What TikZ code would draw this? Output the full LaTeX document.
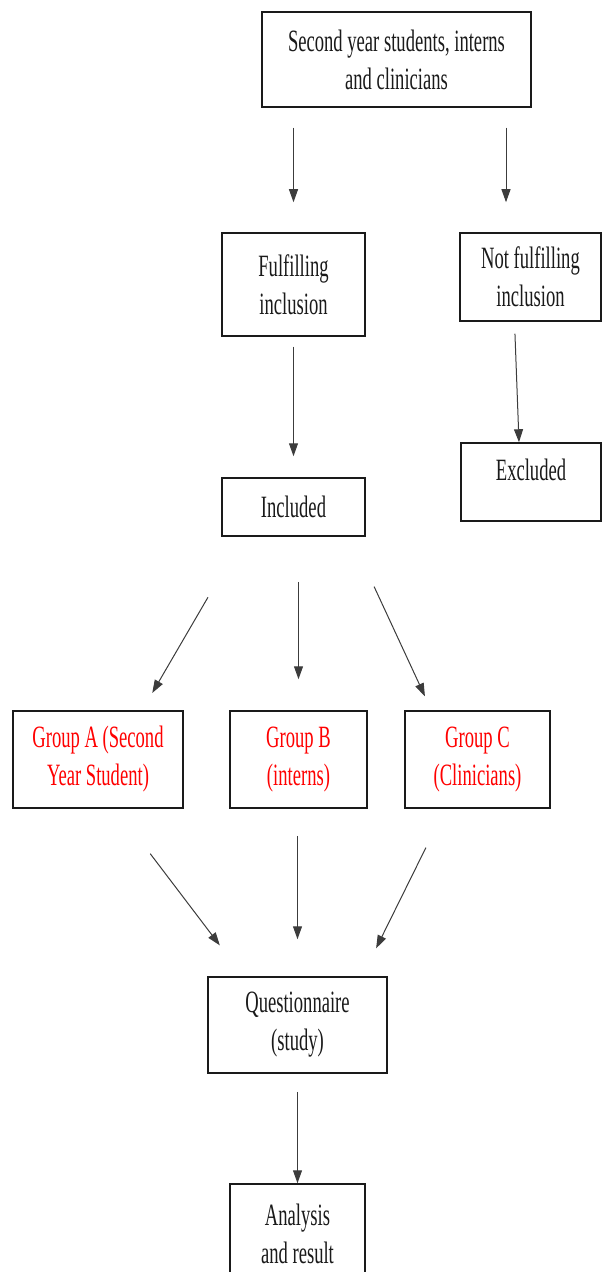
\documentclass[tikz,border=0pt]{standalone}
\usepackage{fontspec}
\setmainfont{Liberation Serif}[FakeStretch=0.6]
\usetikzlibrary{arrows.meta,calc}
\definecolor{ink}{HTML}{1A1A1A}
\definecolor{grp}{HTML}{FF0000}
\tikzset{
  stage/.style={draw=ink, line width=0.75pt, fill=white, align=center,
    inner sep=0pt, font=\fontsize{15.5}{19}\selectfont, text=ink},
  group/.style={stage, text=grp},
  flow/.style={-{Triangle[length=6.5pt,width=4.5pt]}, draw=ink!85, line width=0.5pt},
}

\begin{document}
\begin{tikzpicture}[x=0.5pt, y=-0.5pt]
\useasboundingbox (0,0) rectangle (602,1272);

% Screening
\node[stage, minimum width=134.5pt, minimum height=47.5pt] (pool) at (396.5,59.5) {Second year students, interns\\and clinicians};
\node[stage, minimum width=71.5pt, minimum height=51.5pt] (ful) at (293.5,284.5) {Fulfilling\\inclusion};
\node[stage, minimum width=70.5pt, minimum height=44pt] (nful) at (530.5,277) {Not fulfilling\\inclusion};
\node[stage, minimum width=71.5pt, minimum height=29pt] (inc) at (293.5,507) {Included};
\node[stage, minimum width=70pt, text height=18.5pt, text depth=20.5pt, anchor=base] (exc) at (531,480) {Excluded};
\draw[flow, shorten <=10pt, shorten >=15pt] (pool.south -| ful.north) -- (ful.north);
\draw[flow, shorten <=10pt, shorten >=15pt] ($(pool.south)+(109.5,0)$) -- ($(nful.north)+(-24.5,0)$);
\draw[flow, shorten <=5pt, shorten >=10.5pt] (ful) -- (inc);
\draw[flow, shorten <=6pt] ($(nful.south)+(-16,0)$) -- ($(exc.north)+(-12,0)$);

% Groups
\node[group, minimum width=85pt, minimum height=48.5pt] (ga) at (98,759.5) {Group A (Second\\Year Student)};
\node[group, minimum width=68.5pt, minimum height=48.5pt] (gb) at (298.5,759.5) {Group B\\(interns)};
\node[group, minimum width=72.5pt, minimum height=48.5pt] (gc) at (477.5,759.5) {Group C\\(Clinicians)};
\draw[flow, shorten <=35pt, shorten >=10pt] ($(inc.south)+(-50.3,0)$) -- ($(ga.north)+(44.2,0)$);
\draw[flow, shorten <=22.5pt, shorten >=15.5pt] (inc.south -| gb.north) -- (gb.north);
\draw[flow, shorten <=27.5pt, shorten >=7.7pt] ($(inc.south)+(57.5,0)$) -- ($(gc.north)+(-46.1,0)$);

% Study
\node[stage, minimum width=89.5pt, minimum height=48pt] (qst) at (297.5,1025) {Questionnaire\\(study)};
\node[stage, minimum width=67.5pt, minimum height=50pt] (res) at (297.5,1234) {Analysis\\and result};
\draw[flow, shorten <=28.2pt, shorten >=19.4pt] ($(ga.south)+(18.1,0)$) -- ($(qst.north)+(-54.2,0)$);
\draw[flow, shorten <=13.5pt, shorten >=18.5pt] (gb.south -| qst.north) -- (qst.north);
\draw[flow, shorten <=21.7pt, shorten >=15.6pt] ($(gc.south)+(-32.4,0)$) -- ($(qst.north)+(64.8,0)$);
\draw[flow, shorten <=9pt] (qst) -- (res);

\end{tikzpicture}
\end{document}
